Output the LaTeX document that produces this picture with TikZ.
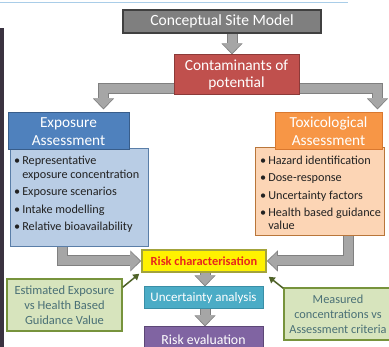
\documentclass[tikz,border=0pt]{standalone}
\usepackage{fontspec}
\setmainfont{Carlito}
\usetikzlibrary{arrows.meta,calc,backgrounds}
\definecolor{csmfill}{HTML}{7F7F7F}
\definecolor{csmdraw}{HTML}{404040}
\definecolor{copfill}{HTML}{C0504D}
\definecolor{copdraw}{HTML}{8C3A38}
\definecolor{exhfill}{HTML}{4F81BD}
\definecolor{exhdraw}{HTML}{385D8A}
\definecolor{exbfill}{HTML}{B9CDE5}
\definecolor{exbdraw}{HTML}{5A7EA8}
\definecolor{txhfill}{HTML}{F79646}
\definecolor{txhdraw}{HTML}{D9782F}
\definecolor{txbfill}{HTML}{FCD5B5}
\definecolor{txbdraw}{HTML}{B9763A}
\definecolor{rcdraw}{HTML}{A3A33C}
\definecolor{rctext}{HTML}{E8251C}
\definecolor{uafill}{HTML}{4BACC6}
\definecolor{uadraw}{HTML}{3A8EA6}
\definecolor{refill}{HTML}{8064A2}
\definecolor{redraw}{HTML}{5C4776}
\definecolor{grfill}{HTML}{D7E4BD}
\definecolor{grdraw}{HTML}{77933C}
\definecolor{grtext}{HTML}{4A7076}
\definecolor{garrowc}{HTML}{4F6228}
\definecolor{barfill}{HTML}{A6A6A6}
\definecolor{bardraw}{HTML}{808080}
\definecolor{topline}{HTML}{A9CDE8}
\definecolor{strip}{HTML}{3A3240}
\definecolor{bodytext}{HTML}{222222}
\tikzset{
  box/.style={inner sep=0pt, align=center, line width=1pt},
  whitetext/.style={text=white},
  bullets/.style={inner sep=0pt, anchor=north west, text=bodytext},
  barrowout/.style={draw=bardraw, line width=11pt,
    -{Triangle[width=21pt,length=11pt,line width=0pt]}},
  barrowin/.style={draw=barfill, line width=9pt, shorten >=1.3pt,
    -{Triangle[width=18pt,length=9pt,line width=0pt]}},
  garrow/.style={draw=garrowc, line width=1.5pt,
    -{Triangle[width=7pt,length=6pt]}},
  greenbox/.style={box, fill=grfill, draw=grdraw, line width=1.5pt, text=grtext},
}
\begin{document}
\begin{tikzpicture}[x=1pt,y=-1pt]
\useasboundingbox (0,0) rectangle (389,347);
\clip (0,0) rectangle (389,347);

\node[box, fill=csmfill, draw=csmdraw, line width=1.5pt, whitetext,
  minimum width=198pt, minimum height=23pt,
  font=\fontsize{15.6}{17}\selectfont] (csm) at (222,21.5) {Conceptual Site Model};

\node[box, fill=copfill, draw=copdraw, whitetext,
  minimum width=125pt, minimum height=40pt,
  font=\fontsize{15.4}{17}\selectfont] (cop) at (236.5,75) {Contaminants of\\potential};

\node[box, fill=exbfill, draw=exbdraw, minimum width=138pt, minimum height=98pt] (expB) at (79,198) {};
\node[box, fill=exhfill, draw=exhdraw, whitetext,
  minimum width=121pt, minimum height=37pt,
  font=\fontsize{15.3}{18}\selectfont] (expH) at (68.5,131.5) {Exposure\\Assessment};

\node[bullets, font=\fontsize{12.2}{14}\selectfont] (expT) at ($(expB.north west)+(4.5,6)$) {%
\begin{tabular}{@{}l@{\hspace{2pt}}l@{}}
\textbullet & Representative\\
 & exposure concentration\\[3.5pt]
\textbullet & Exposure scenarios\\[3.5pt]
\textbullet & Intake modelling\\[3.5pt]
\textbullet & Relative bioavailability
\end{tabular}};

\node[box, fill=txbfill, draw=txbdraw, minimum width=129pt, minimum height=88pt] (toxB) at (319.5,192) {};
\node[box, fill=txhfill, draw=txhdraw, whitetext,
  minimum width=107pt, minimum height=37pt,
  font=\fontsize{15.3}{18}\selectfont] (toxH) at (328.5,131.5) {Toxicological\\Assessment};

\node[bullets, font=\fontsize{12.2}{13}\selectfont] (toxT) at ($(toxB.north west)+(5.5,7.4)$) {%
\begin{tabular}{@{}l@{\hspace{2pt}}l@{}}
\textbullet & Hazard identification\\[4.5pt]
\textbullet & Dose-response\\[4.5pt]
\textbullet & Uncertainty factors\\[4.5pt]
\textbullet & Health based guidance\\
 & value
\end{tabular}};

\node[box, fill=yellow, draw=rcdraw, line width=1.5pt, text=rctext,
  minimum width=124pt, minimum height=22pt,
  font=\bfseries\fontsize{12.4}{13}\selectfont] (rc) at (204,261) {Risk characterisation};

\node[box, fill=uafill, draw=uadraw, whitetext,
  minimum width=119pt, minimum height=22pt,
  font=\fontsize{13}{14}\selectfont] (ua) at (203.5,298) {Uncertainty analysis};

\node[box, fill=refill, draw=redraw, whitetext,
  minimum width=119pt, minimum height=25pt,
  font=\fontsize{13.8}{15}\selectfont] (re) at (203.5,339.5) {Risk evaluation};

\node[greenbox, minimum width=115pt, minimum height=52pt,
  font=\fontsize{12.5}{15}\selectfont] (gl) at (64.5,305) {Estimated Exposure\\vs Health Based\\Guidance Value};

\node[greenbox, minimum width=108pt, minimum height=52pt,
  font=\fontsize{12.3}{15}\selectfont] (gr) at (338,314) {Measured\\concentrations vs\\Assessment criteria};

\draw[garrow] ($(gl.north east)+(0,9)$) -- ($(rc.south west)+(-2,1)$);
\draw[garrow] ($(gr.north west)+(0,1)$) -- ($(rc.south east)+(2,4)$);

\draw[topline, line width=1pt] (0,3) -- (348,3);
\fill[strip] (0,28) rectangle (3.5,347);

\begin{pgfonlayer}{background}
\fill[white] (0,0) rectangle (389,347);
\foreach \s in {barrowout,barrowin}{
  \draw[\s] ($(csm.south)+(10,-4)$) -- ($(cop.north)+(-4.5,0)$);
  \draw[\s] ($(cop.south west)+(6,-7)$) -| ($(expH.north east)+(-26,-3)$);
  \draw[\s] ($(cop.south east)+(-6,-7)$) -| ($(toxH.north east)+(-5,-3)$);
  \draw[\s] ($(expB.south west)+(53,-6)$) |- (rc.west);
  \draw[\s] ($(toxB.south west)+(94,-6)$) |- (rc.east);
  \draw[\s] ($(rc.south)+(1,-4)$) -- ($(ua.north)+(1.5,0)$);
  \draw[\s] ($(ua.south)+(1.5,-4)$) -- ($(re.north)+(1.5,0)$);
}
\end{pgfonlayer}
\end{tikzpicture}
\end{document}
